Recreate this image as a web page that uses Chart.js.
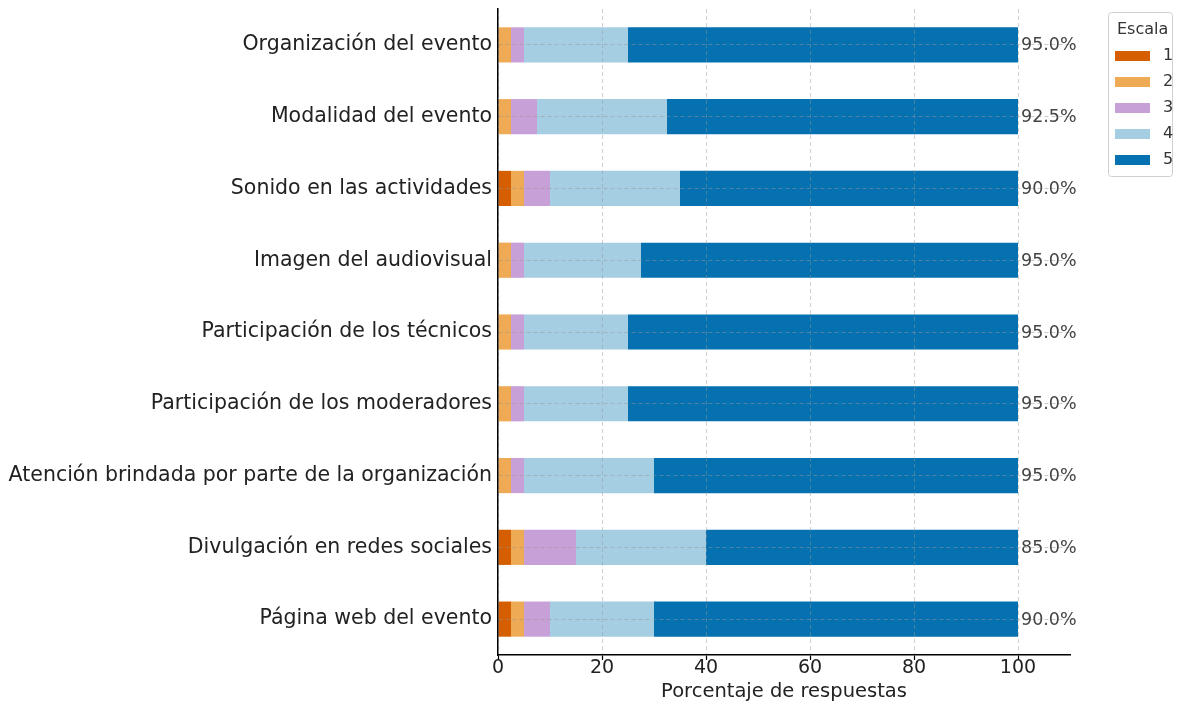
<!DOCTYPE html>
<html><head><meta charset="utf-8">
<script src="https://cdn.jsdelivr.net/npm/chart.js@4.4.1/dist/chart.umd.min.js"></script>
<style>html,body{margin:0;padding:0;background:#fff}#wrap{width:1177px;height:707px;position:relative}</style>
</head><body><div id="wrap"><canvas id="c" width="1177" height="707"></canvas></div>
<script>
const categories = ["Organización del evento","Modalidad del evento","Sonido en las actividades","Imagen del audiovisual","Participación de los técnicos","Participación de los moderadores","Atención brindada por parte de la organización","Divulgación en redes sociales","Página web del evento"];
const scaleLabels = ["1","2","3","4","5"];
const s1 = [0, 0, 2.5, 0, 0, 0, 0, 2.5, 2.5];
const s2 = [2.5, 2.5, 2.5, 2.5, 2.5, 2.5, 2.5, 2.5, 2.5];
const s3 = [2.5, 5, 5, 2.5, 2.5, 2.5, 2.5, 10, 5];
const s4 = [20, 25, 25, 22.5, 20, 20, 25, 25, 20];
const s5 = [75, 67.5, 65, 72.5, 75, 75, 70, 60, 70];
const xTicks = [0, 20, 40, 60, 80, 100];
const colors = ["#d55e00", "#efaa55", "#c8a0d8", "#a6cee3", "#0571b0"];
const FONT = "'DejaVu Sans', sans-serif";

const seriesList = [s1, s2, s3, s4, s5];
const datasets = seriesList.map((d, i) => ({
  label: scaleLabels[i], data: d, backgroundColor: colors[i], borderWidth: 0,
  barPercentage: 0.49, categoryPercentage: 1.0
}));

const valueLabels = {
  id: 'valueLabels',
  afterDraw(chart) {
    const ctx = chart.ctx, xs = chart.scales.x, ys = chart.scales.y;
    ctx.save();
    ctx.font = "17.5px " + FONT;
    ctx.fillStyle = "#444";
    ctx.textBaseline = "middle";
    ctx.textAlign = "left";
    categories.forEach((c, i) => {
      const total = s1[i] + s2[i] + s3[i] + s4[i] + s5[i];
      const pos = s4[i] + s5[i];
      ctx.fillText(pos.toFixed(1) + "%", xs.getPixelForValue(total) + 3, ys.getPixelForValue(i) + 1);
    });
    ctx.restore();
  }
};

const legendBox = {
  id: 'legendBox',
  afterDraw(chart) {
    const ctx = chart.ctx;
    ctx.save();
    const x0 = 1108, y0 = 12, w = 64, h = 164;
    ctx.strokeStyle = "#d0d0d0"; ctx.lineWidth = 1;
    ctx.beginPath();
    if (ctx.roundRect) ctx.roundRect(x0 + 0.5, y0 + 0.5, w, h, 3); else ctx.rect(x0 + 0.5, y0 + 0.5, w, h);
    ctx.stroke();
    ctx.font = "16px " + FONT; ctx.fillStyle = "#333"; ctx.textBaseline = "middle";
    ctx.textAlign = "left";
    ctx.fillText("Escala", 1117, 30);
    scaleLabels.forEach((l, i) => {
      const y = 56 + i * 26;
      ctx.fillStyle = colors[i];
      ctx.fillRect(1115, y - 5, 35, 10);
      ctx.fillStyle = "#333";
      ctx.fillText(l, 1163, y);
    });
    ctx.restore();
  }
};

new Chart(document.getElementById('c'), {
  type: 'bar',
  data: { labels: categories, datasets },
  options: {
    indexAxis: 'y', responsive: false, animation: false,
    layout: { padding: { left: 0, right: 107, top: 9, bottom: 0 } },
    plugins: { legend: { display: false }, tooltip: { enabled: false } },
    scales: {
      x: {
        stacked: true, min: 0, max: 110,
        afterFit(s) { s.height = 52; s.paddingLeft = 0; s.paddingRight = 0; },
        afterBuildTicks(s) { s.ticks = xTicks.map(v => ({ value: v })); },
        ticks: { font: { size: 19, family: FONT }, color: "#222", padding: -3, includeBounds: false },
        grid: { z: 1, color: "rgba(150,150,150,0.45)", lineWidth: 1, tickLength: 5, tickColor: "#000", tickBorderDash: [], tickWidth: 1.2 },
        border: { z: 2, display: true, color: "#000", width: 1.5, dash: [4, 3] },
        title: { display: true, text: "Porcentaje de respuestas", font: { size: 19.5, family: FONT }, color: "#222", padding: { top: 0, bottom: 3 } }
      },
      y: {
        stacked: true,
        afterFit(s) { s.width = 498; s.paddingTop = 0; s.paddingBottom = 0; },
        ticks: { font: { size: 20.5, family: FONT }, color: "#222", padding: 6 },
        grid: { z: 1, offset: false, color: "rgba(150,150,150,0.5)", lineWidth: 1, drawTicks: false },
        border: { z: 2, display: true, color: "#000", width: 1.5, dash: [4, 3] }
      }
    }
  },
  plugins: [valueLabels, legendBox]
});
</script></body></html>
